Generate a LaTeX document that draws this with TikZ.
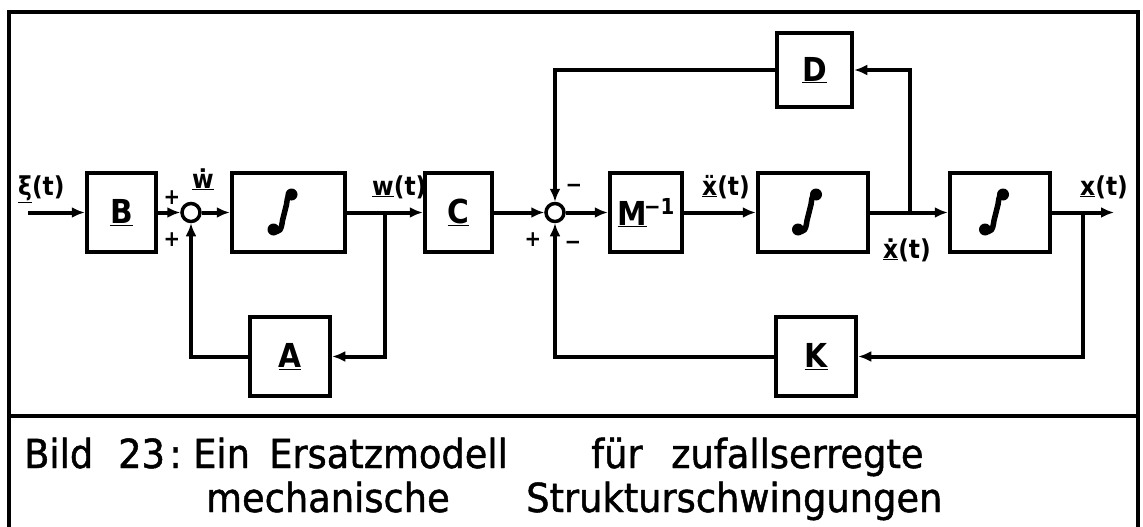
\documentclass[tikz,border=0pt]{standalone}
\usepackage{fontspec}
\setmainfont{DejaVu Sans}[FakeStretch=0.92, FakeBold=1.2]
\newfontfamily\lab{DejaVu Sans}[FakeStretch=0.9]
\usetikzlibrary{arrows.meta}
\begin{document}
\begin{tikzpicture}[x=1pt,y=-1pt,
  blk/.style={draw, line width=4.5pt, inner sep=0pt, font=\lab\bfseries\fontsize{33}{33}\selectfont},
  sumj/.style={draw, circle, line width=3.5pt, minimum size=18pt, inner sep=0pt},
  arr/.style={line width=4pt, -{Latex[length=13pt,width=11pt]}},
  lbl/.style={font=\lab\bfseries\fontsize{26}{26}\selectfont, inner sep=0pt},
  sgn/.style={font=\lab\bfseries\fontsize{22}{22}\selectfont, inner sep=0pt},
  captext/.style={anchor=base west, inner sep=0pt, font=\fontsize{40}{40}\selectfont},
  integ/.pic={
    \draw[line width=5.5pt, line cap=round] (-15,17) .. controls (-9,22) and (-7,16) .. (-6,8) -- (-2,-8) .. controls (-1,-16) and (0,-20) .. (3,-18);
    \fill (-15,17) circle[radius=6pt];
    \fill (3,-18) circle[radius=6pt];
  }]
\useasboundingbox (0,0) rectangle (1143,527);
% frame
\draw[line width=4.5pt] (9,527) -- (9,12) -- (1138,12) -- (1138,527);
\draw[line width=4pt] (9,416) -- (1138,416);
% blocks
\node[blk, minimum width=69pt, minimum height=79pt] (B) at (121.5,212.5) {\underline{B}};
\node[blk, minimum width=113pt, minimum height=79pt] (I1) at (288.5,212.5) {};
\pic at (I1.center) {integ};
\node[blk, minimum width=67pt, minimum height=79pt] (C) at (458.5,212.5) {\underline{C}};
\node[blk, minimum width=72pt, minimum height=79pt] (M) at (646,212.5) {\underline{M}\kern-3pt\raisebox{11pt}{\fontsize{22}{22}\selectfont −1}};
\node[blk, minimum width=110pt, minimum height=79pt] (I2) at (813,212.5) {};
\pic at (I2.center) {integ};
\node[blk, minimum width=100pt, minimum height=79pt] (I3) at (1000,212.5) {};
\pic at (I3.center) {integ};
\node[blk, minimum width=75pt, minimum height=74pt] (D) at (814.5,70) {\underline{D}};
\node[blk, minimum width=80pt, minimum height=79pt] (A) at (290,356.5) {\underline{A}};
\node[blk, minimum width=80pt, minimum height=79pt] (K) at (816,356.5) {\underline{K}};
% summing junctions
\node[sumj] (s1) at (191,212.5) {};
\node[sumj] (s2) at (555,212.5) {};
% coordinates
\coordinate (in) at (28,212.5);
\coordinate (out) at (1114,212.5);
\coordinate (b1) at (385,212.5);
\coordinate (b2) at (910,212.5);
\coordinate (b3) at (1083,212.5);
% connectors
\draw[arr] (in) -- (B.west);
\draw[arr] (B.east) -- (s1.west);
\draw[arr] (s1.east) -- (I1.west);
\draw[arr] (I1.east) -- (C.west);
\draw[arr] (b1) |- (A.east);
\draw[arr] (A.west) -| (s1.south);
\draw[arr] (C.east) -- (s2.west);
\draw[arr] (s2.east) -- (M.west);
\draw[arr] (M.east) -- (I2.west);
\draw[arr] (I2.east) -- (I3.west);
\draw[arr] (b2) |- (D.east);
\draw[arr] (D.west) -| (s2.north);
\draw[arr] (I3.east) -- (out);
\draw[arr] (b3) |- (K.east);
\draw[arr] (K.west) -| (s2.south);
% labels
\node[lbl, anchor=base west] (lxi) at (18,195) {\underline{ξ}(t)};
\node[lbl, anchor=base] (lw) at (203,188) {\underline{ẇ}};
\node[lbl, anchor=base west] (lwt) at (372,195) {\underline{w}(t)};
\node[lbl, anchor=base west] (lxdd) at (702,195) {\underline{ẍ}(t)};
\node[lbl, anchor=base west] (lxd) at (883,258) {\underline{ẋ}(t)};
\node[lbl, anchor=base west] (lx) at (1080,195) {\underline{x}(t)};
% signs
\node[sgn] (p1) at (172,198) {+};
\node[sgn] (p2) at (172,240) {+};
\node[sgn] (m1) at (574,188) {−};
\node[sgn] (p3) at (533,240) {+};
\node[sgn] (m2) at (573,245) {−};
% caption
\node[captext] (cap1) at (24,468) {\makebox[94pt][l]{Bild}\makebox[51pt][l]{23}\makebox[24pt][l]{:}\makebox[76pt][l]{Ein}\makebox[322pt][l]{Ersatzmodell}\makebox[80pt][l]{für}zufallserregte};
\node[captext] (cap2) at (206,512) {\makebox[320pt][l]{mechanische}Strukturschwingungen};
\end{tikzpicture}
\end{document}
